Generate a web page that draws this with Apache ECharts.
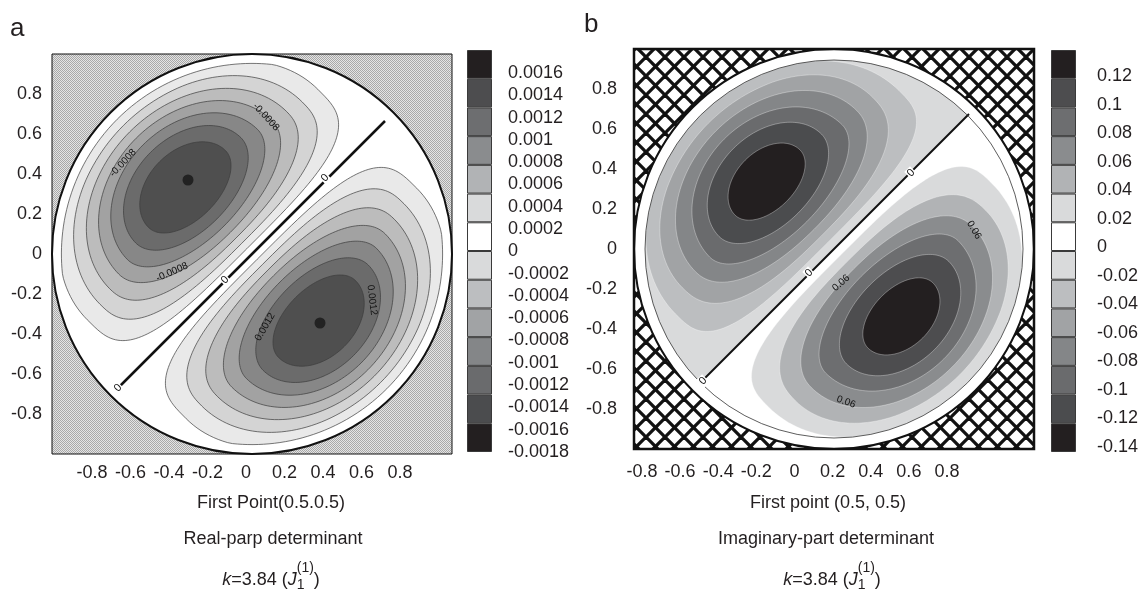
<!DOCTYPE html>
<html>
<head>
<meta charset="utf-8">
<title>determinant contours</title>
<script src="https://cdn.jsdelivr.net/npm/echarts@6/dist/echarts.min.js"></script>
<style>
  html, body { margin: 0; padding: 0; background: #fff; }
  #chart { width: 1143px; height: 590px; }
</style>
</head>
<body>
<div id="chart"></div>
<script>
const FONT = '"Liberation Sans", Arial, sans-serif';
const INK = '#231f20';

// tick values and labels (both panels)
const axisTicks = [-0.8, -0.6, -0.4, -0.2, 0, 0.2, 0.4, 0.6, 0.8];
const xTickLabels = ['-0.8', '-0.6', '-0.4', '-0.2', '0', '0.2', '0.4', '0.6', '0.8'];
const yTickLabels = ['0.8', '0.6', '0.4', '0.2', '0', '-0.2', '-0.4', '-0.6', '-0.8'];

// colour bars, top box first
const barColors = ['#231f20', '#4d4d4f', '#6d6e70', '#8a8c8e', '#b1b3b5', '#d9dadb', '#ffffff',
                   '#d9dadb', '#bcbec0', '#a1a3a5', '#848688', '#6a6b6d', '#4b4c4e', '#231f20'];
const barLabelsA = ['0.0016', '0.0014', '0.0012', '0.001', '0.0008', '0.0006', '0.0004', '0.0002', '0',
                    '-0.0002', '-0.0004', '-0.0006', '-0.0008', '-0.001', '-0.0012', '-0.0014', '-0.0016', '-0.0018'];
const barLabelsB = ['0.12', '0.1', '0.08', '0.06', '0.04', '0.02', '0',
                    '-0.02', '-0.04', '-0.06', '-0.08', '-0.1', '-0.12', '-0.14'];

// the unit disk: centre x, centre y, radius
const disk = [[0, 0, 1]];

// contour levels, outermost first, same for both lobes of a panel:
// [distance of widest point from zero line, half length along the line,
//  depth towards the line, depth towards the rim, squareness of the line side, rim radius]
const levelsA = [
  [0.35, 0.815, 0.313, 0.603, 3.5, 0.953],
  [0.36, 0.715, 0.286, 0.549, 2.8, 0.909],
  [0.38, 0.626, 0.267, 0.484, 2.4, 0.864],
  [0.40, 0.542, 0.247, 0.419, 2.1, 0.819],
  [0.42, 0.460, 0.222, 0.351, 2.0, 0.771],
  [0.45, 0.372, 0.202, 0.268, 2.0, 0.718],
  [0.46, 0.272, 0.152, 0.193, 2.0, 0.653]
];
const levelsB = [
  [0.33, 0.790, 0.285, 0.614, 3.3, 0.944],
  [0.40, 0.673, 0.309, 0.489, 2.6, 0.889],
  [0.41, 0.570, 0.270, 0.425, 2.2, 0.835],
  [0.41, 0.468, 0.217, 0.367, 2.0, 0.777],
  [0.45, 0.362, 0.196, 0.261, 2.0, 0.711],
  [0.47, 0.230, 0.134, 0.158, 2.0, 0.628]
];
// negative half of panel b is shaded right up to the zero line and the inner rim
const halfDiskB = [0.47, 1.6, 0.8, 0.8, 2.0, 0.945];

const fillA = ['#e9e9e9', '#d4d4d4', '#bcbcbc', '#a2a2a2', '#878787', '#6b6b6b', '#4f4f4f'];
const fillB_pos = ['#d9dadb', '#b1b3b5', '#8a8c8e', '#6d6e70', '#4d4d4f', '#231f20'];
const fillB_neg = ['#bcbec0', '#a1a3a5', '#848688', '#6a6b6d', '#4b4c4e', '#231f20'];
const fillB_half = '#d9dadb';

// zero contour (straight line) and the two extrema of panel a
const zeroLineA = [[-0.68, -0.68], [0.665, 0.665]];
const zeroLineB = [[-0.655, -0.655], [0.675, 0.675]];
const peaksA = [[-0.32, 0.37], [0.34, -0.345]];

// contour labels: x, y, angle, text
const zeroLabelsA = [[0.365, 0.38, 45, '0'], [-0.135, -0.13, 45, '0'], [-0.67, -0.67, 45, '0']];
const zeroLabelsB = [[0.385, 0.38, 45, '0'], [-0.125, -0.12, 45, '0'], [-0.655, -0.66, 45, '0']];
const contourLabelsA = [
  [-0.645, 0.455, 47, '-0.0008'], [-0.40, -0.09, 24, '-0.0008'], [0.07, 0.685, -47, '-0.0008'],
  [0.065, -0.365, 60, '0.0012'], [0.60, -0.23, -83, '0.0012']
];
const contourLabelsB = [[0.70, 0.095, -60, '0.06'], [0.035, -0.17, 41, '0.06'], [0.06, -0.765, -20, '0.06']];

// fill patterns outside the disk
function checkerTile() {
  const c = document.createElement('canvas');
  c.width = c.height = 2;
  const g = c.getContext('2d');
  g.fillStyle = '#e4e4e4'; g.fillRect(0, 0, 2, 2);
  g.fillStyle = '#a8a8a8'; g.fillRect(0, 0, 1, 1); g.fillRect(1, 1, 1, 1);
  return c;
}
function crossTile() {
  const n = 19, c = document.createElement('canvas');
  c.width = c.height = n;
  const g = c.getContext('2d');
  g.fillStyle = '#fff'; g.fillRect(0, 0, n, n);
  g.strokeStyle = '#111'; g.lineWidth = 3.3;
  for (const o of [-n, 0, n]) {
    g.beginPath(); g.moveTo(o, 0); g.lineTo(o + n, n); g.stroke();
    g.beginPath(); g.moveTo(o + n, 0); g.lineTo(o, n); g.stroke();
  }
  return c;
}

function backdrop(tile) {
  return function (params, api) {
    const tl = api.coord([-1, 1]), br = api.coord([1, -1]);
    const c = api.coord([api.value(0), api.value(1)]);
    const r = api.size([api.value(2), 0])[0];
    return {
      type: 'group', children: [
        { type: 'rect', shape: { x: tl[0], y: tl[1], width: br[0] - tl[0], height: br[1] - tl[1] },
          style: { fill: { image: tile, repeat: 'repeat' } } },
        { type: 'circle', shape: { cx: c[0], cy: c[1], r: r }, style: { fill: '#fff' } }
      ]
    };
  };
}

function rim(frameWidth, innerRing) {
  return function (params, api) {
    const tl = api.coord([-1, 1]), br = api.coord([1, -1]);
    const c = api.coord([api.value(0), api.value(1)]);
    const r = api.size([api.value(2), 0])[0];
    const kids = [
      { type: 'circle', shape: { cx: c[0], cy: c[1], r: r }, style: { fill: null, stroke: '#111', lineWidth: 2 } },
      { type: 'rect', shape: { x: tl[0], y: tl[1], width: br[0] - tl[0], height: br[1] - tl[1] },
        style: { fill: null, stroke: '#111', lineWidth: frameWidth } }
    ];
    if (innerRing) {
      kids.push({ type: 'circle', shape: { cx: c[0], cy: c[1], r: r * innerRing },
                  style: { fill: null, stroke: '#333', lineWidth: 0.8 } });
    }
    return { type: 'group', children: kids };
  };
}

function spow(v, e) { return Math.sign(v) * Math.pow(Math.abs(v), e); }

// one filled contour band, drawn in the lobe's own frame (s along the zero line, p away from it)
function band(stroke, strokeWidth) {
  return function (params, api) {
    const pw = api.value(0), a = api.value(1), bIn = api.value(2), bOut = api.value(3);
    const nIn = api.value(4), R = api.value(5);
    const side = pw > 0 ? 1 : -1;
    const p0 = Math.abs(pw), h = Math.SQRT1_2;
    const pts = [];
    for (let k = 0; k < 160; k++) {
      const t = k / 160 * 2 * Math.PI;
      const ct = Math.cos(t), st = Math.sin(t);
      const e = st < 0 ? 2 / nIn : 1;
      let s = a * spow(ct, e);
      let p = p0 + (st < 0 ? bIn : bOut) * spow(st, e);
      if (p < 0) p = 0;
      const r = Math.hypot(s, p);
      if (r > R) { s *= R / r; p *= R / r; }
      pts.push(api.coord([(s - side * p) * h, (s + side * p) * h]));
    }
    const outer = a > 1.5;
    return {
      type: 'polygon', shape: { points: pts },
      style: { fill: api.visual('color'), stroke: outer ? null : stroke, lineWidth: strokeWidth }
    };
  };
}

function textMark(size, bg) {
  return function (params, api) {
    const pt = api.coord([api.value(0), api.value(1)]);
    return {
      type: 'text', x: pt[0], y: pt[1], rotation: api.value(2) * Math.PI / 180,
      style: { text: api.value(3), font: size + 'px ' + FONT, fill: '#111',
               align: 'center', verticalAlign: 'middle',
               backgroundColor: bg, padding: bg ? [0, 1] : 0 }
    };
  };
}

function lobe(levels, fills, side) {
  return levels.map((v, i) => ({ value: [side * v[0]].concat(v.slice(1)), itemStyle: { color: fills[i] } }));
}

function kLine(cx, cy) {
  const g = document.createElement('canvas').getContext('2d');
  const big = '18px ' + FONT, bigI = 'italic 18px ' + FONT, small = '14px ' + FONT;
  const pieces = [['k', bigI], ['=3.84 (', big], ['J', bigI]];
  const w = pieces.map(p => { g.font = p[1]; return g.measureText(p[0]).width; });
  g.font = small;
  const wSup = g.measureText('(1)').width, wSub = g.measureText('1').width;
  g.font = big;
  const wEnd = g.measureText(')').width;
  const total = w[0] + w[1] + w[2] + Math.max(wSup, wSub) + wEnd;
  let x = cx - total / 2;
  const els = [];
  pieces.forEach((p, i) => {
    els.push({ type: 'text', x: x, y: cy, style: { text: p[0], font: p[1], fill: INK, align: 'left', verticalAlign: 'middle' } });
    x += w[i];
  });
  els.push({ type: 'text', x: x, y: cy - 12, style: { text: '(1)', font: small, fill: INK, align: 'left', verticalAlign: 'middle' } });
  els.push({ type: 'text', x: x, y: cy + 5, style: { text: '1', font: small, fill: INK, align: 'left', verticalAlign: 'middle' } });
  x += Math.max(wSup, wSub);
  els.push({ type: 'text', x: x, y: cy, style: { text: ')', font: big, fill: INK, align: 'left', verticalAlign: 'middle' } });
  return els;
}

function caption(text, x, y, size) {
  return { type: 'text', x: x, y: y,
           style: { text: text, font: (size || 18) + 'px ' + FONT, fill: INK, align: 'center', verticalAlign: 'middle' } };
}

const hidden = { show: false };
const plainLabel = { color: INK, fontSize: 18, fontFamily: FONT };
function frameAxis(pos, ticks, gridIndex) {
  return {
    type: 'value', gridIndex: gridIndex, position: pos, min: -1, max: 1, interval: 0.2,
    axisLine: hidden, splitLine: hidden, axisLabel: hidden,
    axisTick: ticks ? { show: true, inside: false, length: 5, customValues: axisTicks, lineStyle: { color: '#222', width: 1 } } : hidden
  };
}
function labelAxisX(gridIndex, offset, margin) {
  return { type: 'category', gridIndex: gridIndex, data: xTickLabels, boundaryGap: false, offset: offset,
           axisLine: hidden, axisTick: hidden, splitLine: hidden,
           axisLabel: Object.assign({ interval: 0, margin: margin }, plainLabel) };
}
function labelAxisY(gridIndex, data, pos, offset, margin) {
  return { type: 'category', gridIndex: gridIndex, data: data, boundaryGap: false, inverse: true,
           position: pos, offset: offset,
           axisLine: hidden, axisTick: hidden, splitLine: hidden,
           axisLabel: Object.assign({ interval: 0, margin: margin }, plainLabel) };
}
function barAxisX(gridIndex) { return { type: 'value', gridIndex: gridIndex, min: 0, max: 1, show: false }; }
function barAxisY(gridIndex) {
  return { type: 'category', gridIndex: gridIndex, inverse: true, show: false, data: barColors.map((c, i) => i) };
}
function colourBar(xi, yi) {
  return {
    type: 'bar', xAxisIndex: xi, yAxisIndex: yi, barWidth: '100%', silent: true,
    itemStyle: { borderColor: '#3a3a3a', borderWidth: 1 },
    data: barColors.map(c => ({ value: 1, itemStyle: { color: c } }))
  };
}

const bandsA = lobe(levelsA, fillA, 1).concat(lobe(levelsA, fillA, -1));
const bandsB = [{ value: halfDiskB, itemStyle: { color: fillB_half } }]
  .concat(lobe(levelsB, fillB_neg, 1), lobe(levelsB, fillB_pos, -1));

const chart = echarts.init(document.getElementById('chart'));
chart.setOption({
  animation: false,
  grid: [
    { left: 52, top: 54, width: 400, height: 400 },     // 0 panel a
    { left: 92, top: 94, width: 308, height: 320 },     // 1 panel a tick labels
    { left: 467, top: 50, width: 25, height: 402 },     // 2 bar a
    { left: 467, top: 73, width: 25, height: 379 },     // 3 bar a labels
    { left: 634, top: 49, width: 400, height: 400 },    // 4 panel b
    { left: 642, top: 89, width: 305, height: 320 },    // 5 panel b tick labels
    { left: 1051, top: 50, width: 25, height: 402 },    // 6 bar b
    { left: 1051, top: 76, width: 25, height: 371 }     // 7 bar b labels
  ],
  xAxis: [
    frameAxis('bottom', true, 0),
    frameAxis('top', true, 0),
    labelAxisX(1, 40, 10),
    barAxisX(2),
    barAxisX(3),
    Object.assign(frameAxis('bottom', false, 4), { show: false }),
    labelAxisX(5, 40, 14),
    barAxisX(6),
    barAxisX(7)
  ],
  yAxis: [
    frameAxis('left', true, 0),
    frameAxis('right', true, 0),
    labelAxisY(1, yTickLabels, 'left', 40, 10),
    barAxisY(2),
    labelAxisY(3, barLabelsA, 'right', 0, 16),
    Object.assign(frameAxis('left', false, 4), { show: false }),
    labelAxisY(5, yTickLabels, 'left', 8, 17),
    barAxisY(6),
    labelAxisY(7, barLabelsB, 'right', 0, 21)
  ],
  series: [
    // panel a
    { type: 'custom', xAxisIndex: 0, yAxisIndex: 0, z: 1, silent: true, data: disk, renderItem: backdrop(checkerTile()) },
    { type: 'custom', xAxisIndex: 0, yAxisIndex: 0, z: 2, silent: true, data: bandsA, renderItem: band('#3c3c3c', 0.7) },
    { type: 'line', xAxisIndex: 0, yAxisIndex: 0, z: 3, silent: true, data: zeroLineA, symbol: 'none',
      lineStyle: { color: '#111', width: 2.5 } },
    { type: 'custom', xAxisIndex: 0, yAxisIndex: 0, z: 4, silent: true, data: disk, renderItem: rim(1, 0) },
    { type: 'scatter', xAxisIndex: 0, yAxisIndex: 0, z: 5, silent: true, data: peaksA, symbolSize: 11,
      itemStyle: { color: '#161616' } },
    { type: 'custom', xAxisIndex: 0, yAxisIndex: 0, z: 6, silent: true, data: zeroLabelsA, renderItem: textMark(11, '#fff') },
    { type: 'custom', xAxisIndex: 0, yAxisIndex: 0, z: 6, silent: true, data: contourLabelsA, renderItem: textMark(10, null) },
    colourBar(3, 3),
    // panel b
    { type: 'custom', xAxisIndex: 5, yAxisIndex: 5, z: 1, silent: true, data: disk, renderItem: backdrop(crossTile()) },
    { type: 'custom', xAxisIndex: 5, yAxisIndex: 5, z: 2, silent: true, data: bandsB,
      renderItem: band('rgba(255,255,255,0.55)', 0.6) },
    { type: 'line', xAxisIndex: 5, yAxisIndex: 5, z: 3, silent: true, data: zeroLineB, symbol: 'none',
      lineStyle: { color: '#111', width: 2 } },
    { type: 'custom', xAxisIndex: 5, yAxisIndex: 5, z: 4, silent: true, data: disk, renderItem: rim(2.5, 0.945) },
    { type: 'custom', xAxisIndex: 5, yAxisIndex: 5, z: 6, silent: true, data: zeroLabelsB, renderItem: textMark(11, '#fff') },
    { type: 'custom', xAxisIndex: 5, yAxisIndex: 5, z: 6, silent: true, data: contourLabelsB, renderItem: textMark(10, null) },
    colourBar(7, 7)
  ],
  graphic: [
    { type: 'text', x: 10, y: 29, style: { text: 'a', font: '26px ' + FONT, fill: INK, align: 'left', verticalAlign: 'middle' } },
    { type: 'text', x: 584, y: 25, style: { text: 'b', font: '26px ' + FONT, fill: INK, align: 'left', verticalAlign: 'middle' } },
    caption('First Point(0.5.0.5)', 271, 503),
    caption('Real-parp determinant', 273, 539),
    caption('First point (0.5, 0.5)', 828, 503),
    caption('Imaginary-part determinant', 826, 539)
  ].concat(kLine(271, 580), kLine(832, 580))
});
</script>
</body>
</html>
